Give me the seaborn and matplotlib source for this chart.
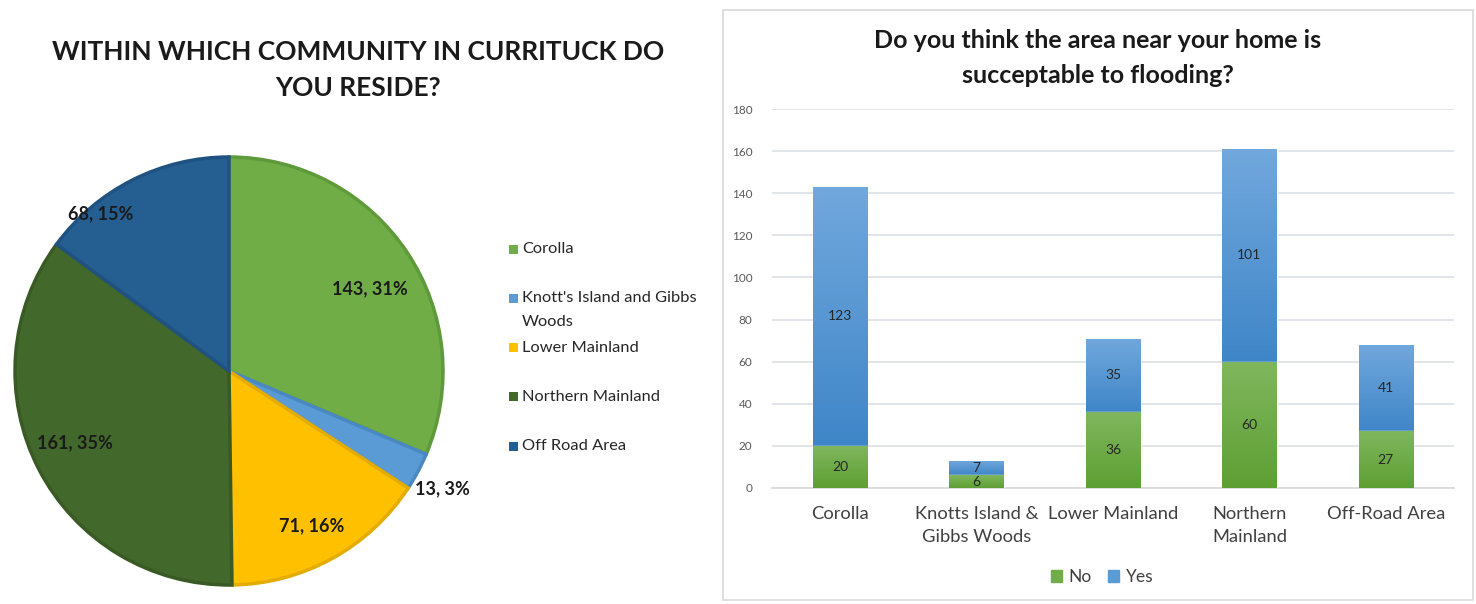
import numpy as np
import pandas as pd
import matplotlib
matplotlib.use("Agg")
import matplotlib.pyplot as plt
from matplotlib.colors import LinearSegmentedColormap
from matplotlib.patches import Rectangle
import seaborn as sns

# ---- data ----
communities = ["Corolla", "Knott's Island and Gibbs Woods", "Lower Mainland",
               "Northern Mainland", "Off Road Area"]
residents = [143, 13, 71, 161, 68]

flood_cats = ["Corolla", "Knotts Island &\nGibbs Woods", "Lower Mainland",
              "Northern\nMainland", "Off-Road Area"]
flood_no = [20, 6, 36, 60, 27]
flood_yes = [123, 7, 35, 101, 41]
y_ticks = [0, 20, 40, 60, 80, 100, 120, 140, 160, 180]

pie_colors = ["#70AD47", "#5B9BD5", "#FFC000", "#43682B", "#255E91"]
pie_edges = ["#5E9A3A", "#4A88C2", "#E5AC00", "#3A5A25", "#1F5281"]

sns.set_theme(style="white")
plt.rcParams["font.family"] = ["Lato", "DejaVu Sans"]

W, H = 1476, 604
fig = plt.figure(figsize=(W / 100, H / 100), dpi=100)


def fx(px):
    return px / W


def fy(py):
    return 1 - py / H


# ---- pie: community of residence ----
R = 214
cx, cy = 229, 371
pax = fig.add_axes([fx(cx - R), fy(cy + R), 2 * R / W, 2 * R / H])
wedges, _ = pax.pie(residents, colors=pie_colors, startangle=90,
                    counterclock=False, radius=1,
                    wedgeprops=dict(linewidth=2.5))
for w, ec in zip(wedges, pie_edges):
    w.set_edgecolor(ec)
pax.set_xlim(-1, 1)
pax.set_ylim(-1, 1)
pax.set_aspect("equal")
pax.axis("off")

total = sum(residents)
label_r = [0.76, 1.14, 0.82, 0.795, 0.95]
label_shift = [-3.3, -0.7, -0.6, -2.2, 12.4]
for w, v, r, sh in zip(wedges, residents, label_r, label_shift):
    ang = np.deg2rad((w.theta1 + w.theta2) / 2 + sh)
    pax.text(r * np.cos(ang), r * np.sin(ang),
             f"{v}, {round(100 * v / total)}%",
             ha="center", va="center", fontsize=13, fontweight="bold",
             color="#1a1a1a", clip_on=False)

fig.text(fx(358), fy(70),
         "WITHIN WHICH COMMUNITY IN CURRITUCK DO\nYOU RESIDE?",
         ha="center", va="center", fontsize=19, fontweight="bold",
         color="#1a1a1a", linespacing=1.55)

# pie legend
leg_y0, leg_step = 249, 49.25
for i, (name, col) in enumerate(zip(communities, pie_colors)):
    y = leg_y0 + i * leg_step
    fig.patches.append(Rectangle((fx(509), fy(y + 4.5)), 9 / W, 9 / H,
                                 transform=fig.transFigure,
                                 facecolor=col, edgecolor="none"))
    text = "Knott's Island and Gibbs\nWoods" if i == 1 else name
    fig.text(fx(522), fy(y - 7), text, ha="left", va="top",
             fontsize=11.8, color="#262626", linespacing=1.85)

# ---- stacked bars: flooding perception ----
fig.patches.append(Rectangle((fx(723), fy(600)), 750 / W, 590 / H,
                             transform=fig.transFigure, facecolor="none",
                             edgecolor="#D9D9D9", linewidth=1.2))

bax = fig.add_axes([fx(772), fy(488), 682 / W, 379 / H])
df = pd.DataFrame({"cat": flood_cats, "No": flood_no, "Yes": flood_yes})
df["Total"] = df["No"] + df["Yes"]

sns.barplot(data=df, x="cat", y="Total", color="#5B9BD5", width=0.4,
            saturation=1, ax=bax, zorder=2)
sns.barplot(data=df, x="cat", y="No", color="#70AD47", width=0.4,
            saturation=1, ax=bax, zorder=3)

blue_cmap = LinearSegmentedColormap.from_list("b", ["#3F86C8", "#71A8DD"])
green_cmap = LinearSegmentedColormap.from_list("g", ["#5E9F33", "#80B75E"])
n = len(df)
patches = list(bax.patches)
for k, p in enumerate(patches):
    cmap = blue_cmap if k < n else green_cmap
    x0, y0 = p.get_x(), p.get_y()
    wdt, hgt = p.get_width(), p.get_height()
    if k < n:
        # gradient over the "Yes" segment only
        y0 = df["No"].iloc[k]
        hgt = df["Yes"].iloc[k]
    grad = np.linspace(0, 1, 256).reshape(-1, 1)
    im = bax.imshow(grad, cmap=cmap, origin="lower", aspect="auto",
                    extent=[x0, x0 + wdt, y0, y0 + hgt],
                    zorder=p.get_zorder() + 0.5)
    im.set_clip_path(p)

for i in range(n):
    no, yes = df["No"].iloc[i], df["Yes"].iloc[i]
    bax.text(i, no / 2, f"{no}", ha="center", va="center", fontsize=10,
             color="#262626", zorder=10)
    bax.text(i, no + yes / 2, f"{yes}", ha="center", va="center",
             fontsize=10, color="#262626", zorder=10)

bax.set_xlim(-0.5, n - 0.5)
bax.set_ylim(0, 180)
bax.set_yticks(y_ticks)
bax.yaxis.grid(True, color="#DCE0E6", linewidth=1.2, zorder=0)
bax.set_axisbelow(True)
bax.set_xlabel("")
bax.set_ylabel("")
for s in ["top", "right", "left"]:
    bax.spines[s].set_visible(False)
bax.spines["bottom"].set_color("#D9D9D9")
bax.tick_params(axis="y", labelsize=8.5, labelcolor="#595959", length=0, pad=14)
bax.tick_params(axis="x", labelsize=13.2, labelcolor="#404040", length=0, pad=13)
for t in bax.get_xticklabels():
    t.set_linespacing(1.5)

fig.text(fx(1098), fy(58),
         "Do you think the area near your home is\nsucceptable to flooding?",
         ha="center", va="center", fontsize=18, fontweight="bold",
         color="#1a1a1a", linespacing=1.58)

handles = [Rectangle((0, 0), 1, 1, color="#70AD47"),
           Rectangle((0, 0), 1, 1, color="#5B9BD5")]
fig.legend(handles, ["No", "Yes"], loc="center",
           bbox_to_anchor=(fx(1102), fy(577)), ncol=2, frameon=False,
           fontsize=12.5, handlelength=0.65, handleheight=0.65,
           handletextpad=0.4, columnspacing=0.9, labelcolor="#404040")

fig.savefig("out.png", dpi=100, facecolor="white")
